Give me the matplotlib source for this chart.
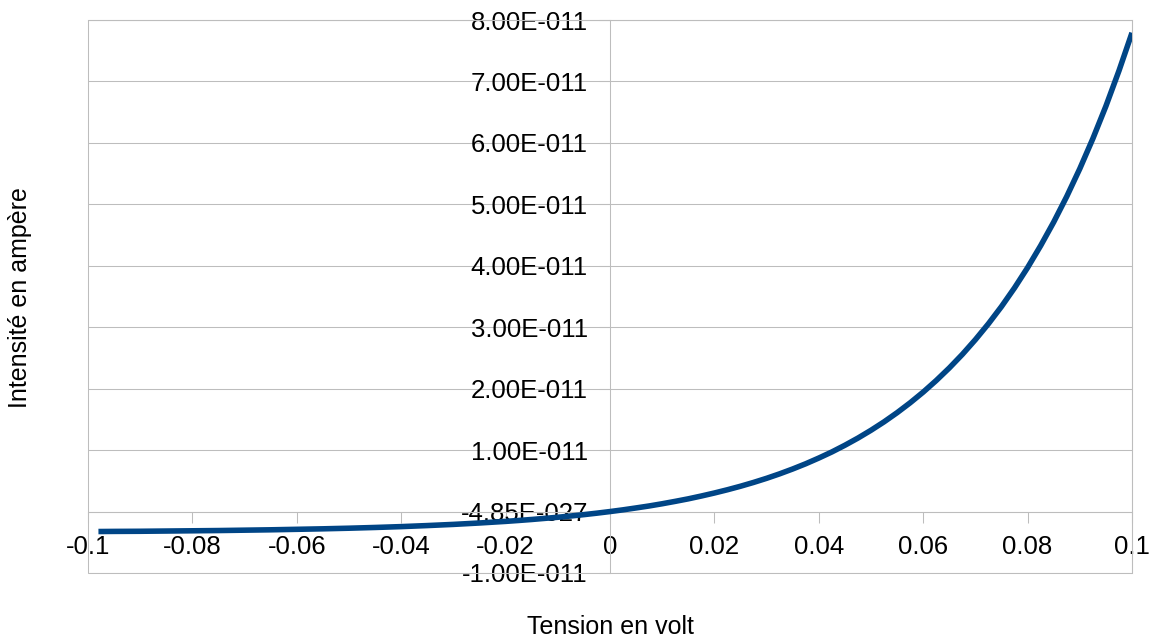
import numpy as np
import matplotlib
matplotlib.use("Agg")
import matplotlib.pyplot as plt
from matplotlib.patches import Rectangle

plt.rcParams['font.family'] = ['Liberation Sans', 'DejaVu Sans']

# tension (V) and intensité (units of 1e-11 A)
tension = [-0.098, -0.095, -0.09, -0.085, -0.08, -0.075, -0.07, -0.065, -0.06, -0.055,
           -0.05, -0.045, -0.04, -0.035, -0.03, -0.025, -0.02, -0.0175, -0.015, -0.0125,
           -0.01, -0.0075, -0.005, -0.0025, 0.0, 0.0025, 0.005, 0.0075, 0.01, 0.0125,
           0.015, 0.0175, 0.02, 0.0225, 0.025, 0.0275, 0.03, 0.0325, 0.035, 0.0375,
           0.04, 0.0425, 0.045, 0.0475, 0.05, 0.0525, 0.055, 0.0575, 0.06, 0.0625,
           0.065, 0.0675, 0.07, 0.0725, 0.075, 0.0775, 0.08, 0.0825, 0.085, 0.0875,
           0.09, 0.0925, 0.095, 0.0975, 0.1]
intensite_e11 = [-0.325, -0.323, -0.321, -0.317, -0.313, -0.309, -0.303, -0.297, -0.289, -0.281,
                 -0.271, -0.259, -0.245, -0.228, -0.209, -0.186, -0.160, -0.145, -0.129, -0.111,
                 -0.093, -0.072, -0.050, -0.026, 0.0, 0.028, 0.059, 0.091, 0.127, 0.166,
                 0.207, 0.253, 0.302, 0.355, 0.412, 0.474, 0.541, 0.614, 0.693, 0.778,
                 0.871, 0.970, 1.079, 1.196, 1.323, 1.460, 1.609, 1.770, 1.944, 2.133,
                 2.337, 2.558, 2.798, 3.057, 3.337, 3.641, 3.970, 4.327, 4.711, 5.128,
                 5.580, 6.069, 6.598, 7.173, 7.792]

x_ticks = [-0.1, -0.08, -0.06, -0.04, -0.02, 0, 0.02, 0.04, 0.06, 0.08, 0.1]
x_labels = ["-0.1", "-0.08", "-0.06", "-0.04", "-0.02", "0", "0.02", "0.04", "0.06", "0.08", "0.1"]
y_ticks = [-1e-11, 0, 1e-11, 2e-11, 3e-11, 4e-11, 5e-11, 6e-11, 7e-11, 8e-11]
y_labels = ["-1.00E-011", "-4.85E-027", "1.00E-011", "2.00E-011", "3.00E-011",
            "4.00E-011", "5.00E-011", "6.00E-011", "7.00E-011", "8.00E-011"]

grey = "#bdbdbd"
fs = 18.5

fig = plt.figure(figsize=(11.6, 6.41), dpi=100)
ax = fig.add_axes([88/1160, 1 - 573/641, 1044/1160, 553/641])

ax.plot(tension, np.array(intensite_e11) * 1e-11, color="#004586", lw=4,
        solid_capstyle="butt", solid_joinstyle="round", zorder=3)

ax.set_xlim(-0.1, 0.1)
ax.set_ylim(-1e-11, 8e-11)
ax.set_xticks(x_ticks)
ax.set_xticklabels(x_labels)
ax.set_yticks(y_ticks)
ax.set_yticklabels(y_labels)

ax.yaxis.grid(True, color=grey, lw=0.75)
ax.set_axisbelow(True)

for s in ["left", "bottom"]:
    ax.spines[s].set_position(("data", 0))
for s in ax.spines.values():
    s.set_color(grey)
    s.set_linewidth(0.75)
ax.add_patch(Rectangle((0, 0), 1, 1, transform=ax.transAxes, fill=False,
                       ec=grey, lw=0.75, clip_on=False, zorder=1))

ax.tick_params(axis="x", direction="out", length=8, width=0.75, color=grey,
               labelsize=fs, pad=9)
ax.tick_params(axis="y", direction="out", length=8, width=0.75, color=grey,
               labelsize=fs, pad=8)

fig.text(20/1160, 1 - 298/641, "Intensité en ampère", rotation=90, fontsize=18,
         ha="center", va="center")
fig.text(610/1160, 1 - 627/641, "Tension en volt", fontsize=18,
         ha="center", va="center")

fig.savefig("out.png", dpi=100)
